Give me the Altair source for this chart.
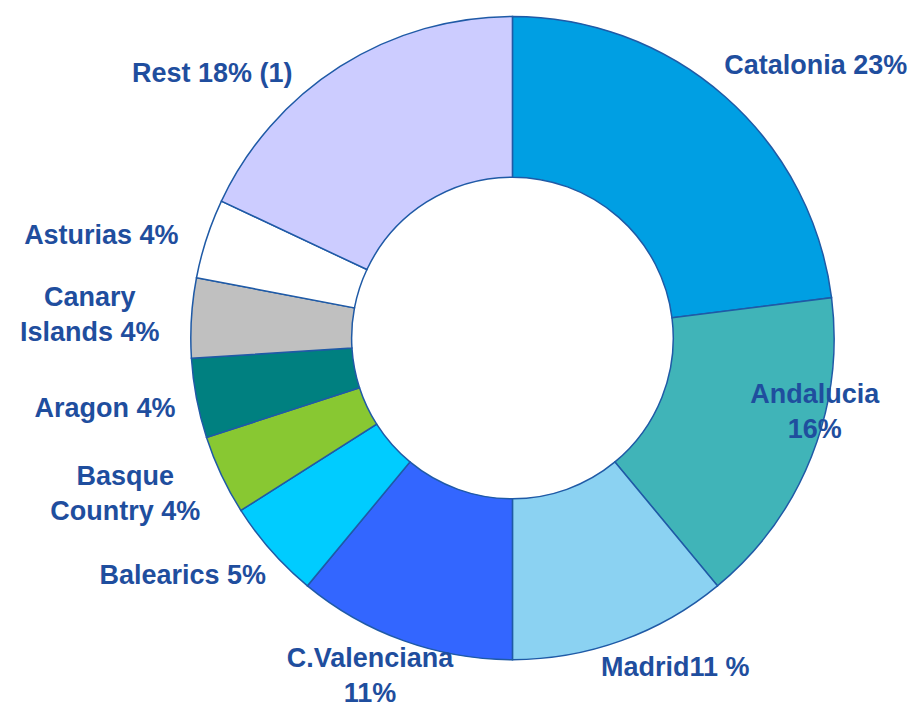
import altair as alt
import pandas as pd

# Data
regions = ["Catalonia", "Andalucia", "Madrid", "C.Valenciana", "Balearics",
           "Basque Country", "Aragon", "Canary Islands", "Asturias", "Rest"]
shares = [23, 16, 11, 11, 5, 4, 4, 4, 4, 18]
labels = [["Catalonia 23%"], ["Andalucia", "16%"], ["Madrid11 %"],
          ["C.Valenciana", "11%"], ["Balearics 5%"], ["Basque", "Country 4%"],
          ["Aragon 4%"], ["Canary", "Islands 4%"], ["Asturias 4%"], ["Rest 18% (1)"]]

# Styling / layout
colors = ["#009FE3", "#40B4B8", "#8BD2F2", "#3366FF", "#00CCFF",
          "#88C832", "#008080", "#C0C0C0", "#FFFFFF", "#CCCCFF"]
label_angle = [48.1, 100.7, 153.7, 203.9, 234.2, 250.2, 260.1, 275.4, 283.9, 311.3]
label_radius = [408, 308, 368, 352, 407, 412, 414, 425, 424, 400]

W, H = 900, 692
CX, CY = 505, 330
R_OUT, R_IN = 322, 161

df = pd.DataFrame({
    "region": regions,
    "share": shares,
    "order": list(range(len(regions))),
    "label": labels,
    "langle": label_angle,
    "lradius": label_radius,
})

base = alt.Chart(df)

arcs = base.mark_arc(
    outerRadius=R_OUT, innerRadius=R_IN, stroke="#1F5AA6", strokeWidth=1.5
).encode(
    theta=alt.Theta("share:Q", stack=True),
    order=alt.Order("order:Q"),
    color=alt.Color("region:N", sort=regions,
                    scale=alt.Scale(domain=regions, range=colors), legend=None),
    x=alt.value(CX),
    y=alt.value(CY),
)

text = base.mark_text(
    font="Liberation Sans", fontWeight="bold", fontSize=27, color="#1F4E9E",
    align="center", baseline="middle", lineHeight=35
).encode(
    theta=alt.Theta("langle:Q", stack=None,
                    scale=alt.Scale(domain=[0, 360], range=[0, 6.283185307179586])),
    radius=alt.Radius("lradius:Q", scale=alt.Scale(type="linear", domain=[0, 500], range=[0, 500], zero=True)),
    text="label",
    x=alt.value(CX),
    y=alt.value(CY),
)

chart = alt.layer(arcs, text).resolve_scale(
    theta="independent", radius="independent"
).properties(
    width=W, height=H, padding=0
).configure_view(stroke=None)

chart.save("out.html", embed_options={"renderer": "svg", "actions": False})
